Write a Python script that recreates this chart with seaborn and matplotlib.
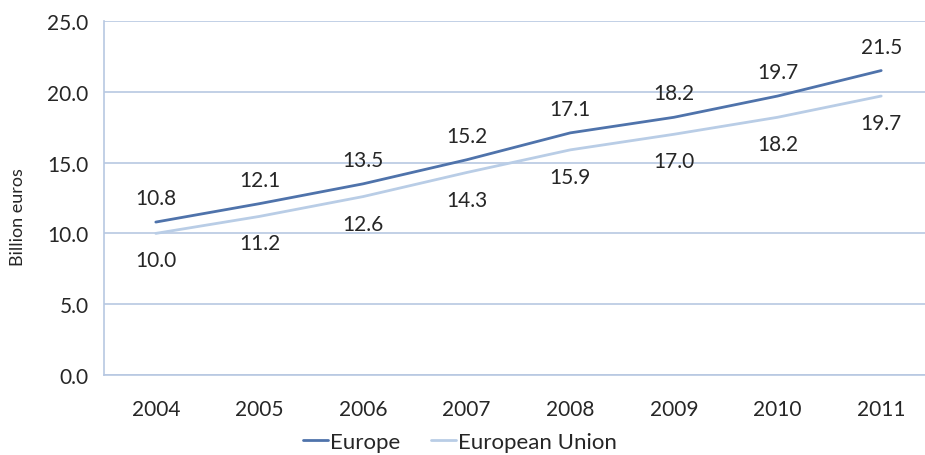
import matplotlib
matplotlib.use("Agg")
import matplotlib.pyplot as plt
import seaborn as sns
import pandas as pd

years = ["2004", "2005", "2006", "2007", "2008", "2009", "2010", "2011"]
europe = [10.8, 12.1, 13.5, 15.2, 17.1, 18.2, 19.7, 21.5]
eu = [10.0, 11.2, 12.6, 14.3, 15.9, 17.0, 18.2, 19.7]
series_names = ["Europe", "European Union"]
colors = ["#4f73ab", "#b9cde6"]
grid_color = "#b7c8e2"
text_color = "#262626"

sns.set_style("white")
plt.rcParams["font.family"] = ["Lato", "DejaVu Sans"]

df = pd.DataFrame({
    "year": years * 2,
    "value": europe + eu,
    "series": [series_names[0]] * len(years) + [series_names[1]] * len(years),
})
df["x"] = list(range(len(years))) * 2

fig = plt.figure(figsize=(9.25, 4.56), dpi=100)
ax = fig.add_axes([104 / 925, 80 / 456, 829 / 925, 354 / 456])

sns.lineplot(data=df, x="x", y="value", hue="series", palette=colors,
             linewidth=2, ax=ax, legend=False)

for i, v in enumerate(europe):
    ax.annotate(f"{v:.1f}", (i, v), xytext=(0, 24), textcoords="offset pixels",
                ha="center", va="center", fontsize=15, color=text_color)
for i, v in enumerate(eu):
    ax.annotate(f"{v:.1f}", (i, v), xytext=(0, -27), textcoords="offset pixels",
                ha="center", va="center", fontsize=15, color=text_color)

ax.set_xlim(-0.5, len(years) - 0.5)
ax.set_ylim(0, 25)
ax.set_yticks([0, 5, 10, 15, 20, 25])
ax.set_yticklabels([f"{t:.1f}" for t in [0, 5, 10, 15, 20, 25]], fontsize=15, color=text_color)
ax.set_xticks(range(len(years)))
ax.set_xticklabels(years, fontsize=15, color=text_color)
ax.set_xticks([i - 0.5 for i in range(len(years) + 1)], minor=True)
ax.tick_params(axis="x", which="major", length=0, pad=17)
ax.tick_params(axis="x", which="minor", length=8, color=grid_color, width=1.2)
ax.tick_params(axis="y", length=6, color=grid_color, width=1.2, pad=5)
ax.yaxis.grid(True, color=grid_color, linewidth=1.2)
ax.set_axisbelow(True)
for side in ["top", "right"]:
    ax.spines[side].set_visible(False)
ax.spines["left"].set_color(grid_color)
ax.spines["left"].set_linewidth(1.2)
ax.spines["bottom"].set_color(grid_color)
ax.spines["bottom"].set_linewidth(1.2)
ax.set_xlabel("")
ax.set_ylabel("Billion euros", fontsize=13, color=text_color, va="center")
ax.yaxis.set_label_coords(-86 / 829, 0.45)

handles = [plt.Line2D([], [], color=c, linewidth=2) for c in colors]
fig.legend(handles, series_names, loc="center", bbox_to_anchor=(460 / 925, 13 / 456),
           ncol=2, frameon=False, fontsize=16, handlelength=1.1, handletextpad=0.1,
           columnspacing=1.4, labelcolor=text_color)

fig.savefig("out.png", dpi=100)
